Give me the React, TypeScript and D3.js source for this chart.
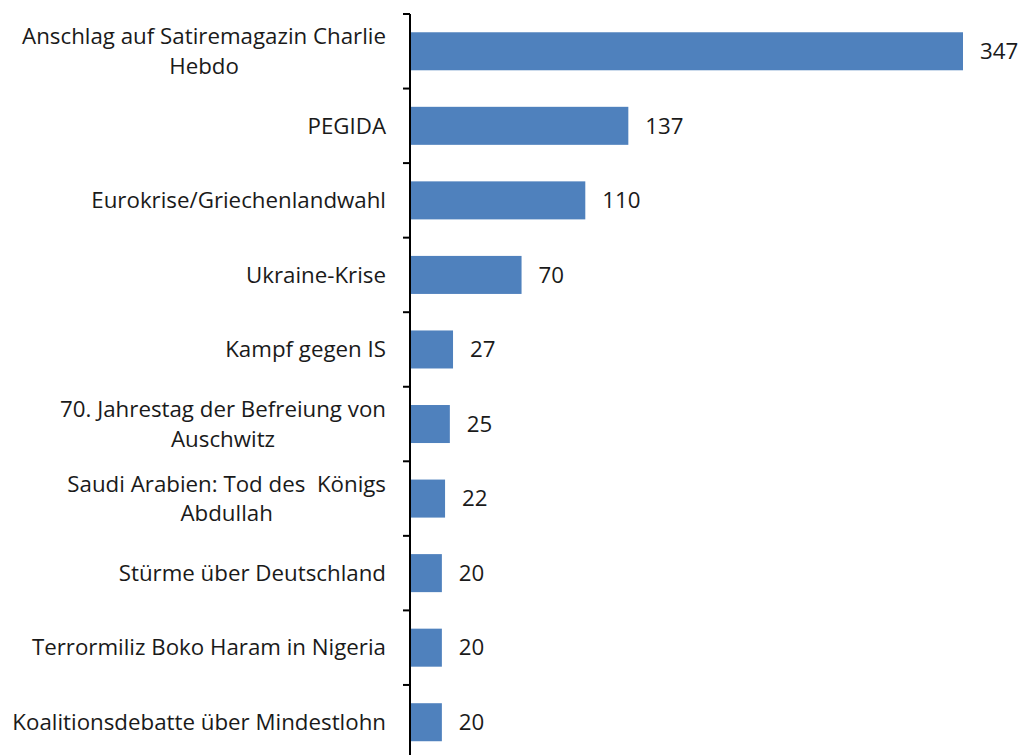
import React from "react";
import * as d3 from "d3";

const categories: string[][] = [
  ["Anschlag auf Satiremagazin Charlie", "Hebdo"],
  ["PEGIDA"],
  ["Eurokrise/Griechenlandwahl"],
  ["Ukraine-Krise"],
  ["Kampf gegen IS"],
  ["70. Jahrestag der Befreiung von", "Auschwitz"],
  ["Saudi Arabien: Tod des  Königs", "Abdullah"],
  ["Stürme über Deutschland"],
  ["Terrormiliz Boko Haram in Nigeria"],
  ["Koalitionsdebatte über Mindestlohn"],
];
const values: number[] = [347, 137, 110, 70, 27, 25, 22, 20, 20, 20];

const W = 1021;
const H = 755;
const FONT = "'Open Sans', sans-serif";
const FS = 22.3;

function measure(text: string): number {
  const c = document.createElement("canvas");
  const ctx = c.getContext("2d")!;
  ctx.font = `${FS}px 'Open Sans'`;
  return ctx.measureText(text).width;
}

export default function App() {
  const x0 = 410;
  const step = 74.55;
  const y = d3
    .scaleBand<number>()
    .domain(values.map((_, i) => i))
    .range([14, 14 + step * values.length])
    .paddingInner(0.49)
    .paddingOuter(0.245);
  const x = d3.scaleLinear().domain([0, 347]).range([x0, 963]);
  const labelRight = 386;
  const ticks = d3.range(values.length + 1).map((i) => 14 + i * step);

  return (
    <svg width={W} height={H} style={{ position: "absolute", left: 0, top: 0, background: "#fff" }}>
      <rect x={0} y={0} width={W} height={H} fill="#fff" />
      {values.map((v, i) => {
        const yy = y(i)!;
        const cy = yy + y.bandwidth() / 2;
        return (
          <g key={i}>
            <rect x={x(0) + 1} y={yy} width={x(v) - x(0) - 1} height={y.bandwidth()} fill="#4F81BD" />
            <text x={x(v) + 17} y={cy} dy="0.35em" fontFamily={FONT} fontSize={FS} fill="#1a1a1a">
              {v}
            </text>
          </g>
        );
      })}
      {categories.map((lines, i) => {
        const cy = y(i)! + y.bandwidth() / 2;
        if (lines.length === 1) {
          return (
            <text key={i} x={labelRight} y={cy} dy="0.35em" textAnchor="end" fontFamily={FONT} fontSize={FS} fill="#1a1a1a">
              {lines[0]}
            </text>
          );
        }
        const w = Math.max(...lines.map(measure));
        const cx = labelRight - w / 2;
        const lh = 29.5;
        return (
          <text key={i} textAnchor="middle" fontFamily={FONT} fontSize={FS} fill="#1a1a1a" style={{ whiteSpace: "pre" }}>
            {lines.map((l, j) => (
              <tspan key={j} x={cx} y={cy + (j - (lines.length - 1) / 2) * lh} dy="0.35em">
                {l}
              </tspan>
            ))}
          </text>
        );
      })}
      <line x1={x0} x2={x0} y1={14} y2={H} stroke="#000" strokeWidth={2} />
      {ticks.map((t, i) => (
        <line key={i} x1={x0 - 7} x2={x0} y1={t} y2={t} stroke="#000" strokeWidth={2} />
      ))}
    </svg>
  );
}
